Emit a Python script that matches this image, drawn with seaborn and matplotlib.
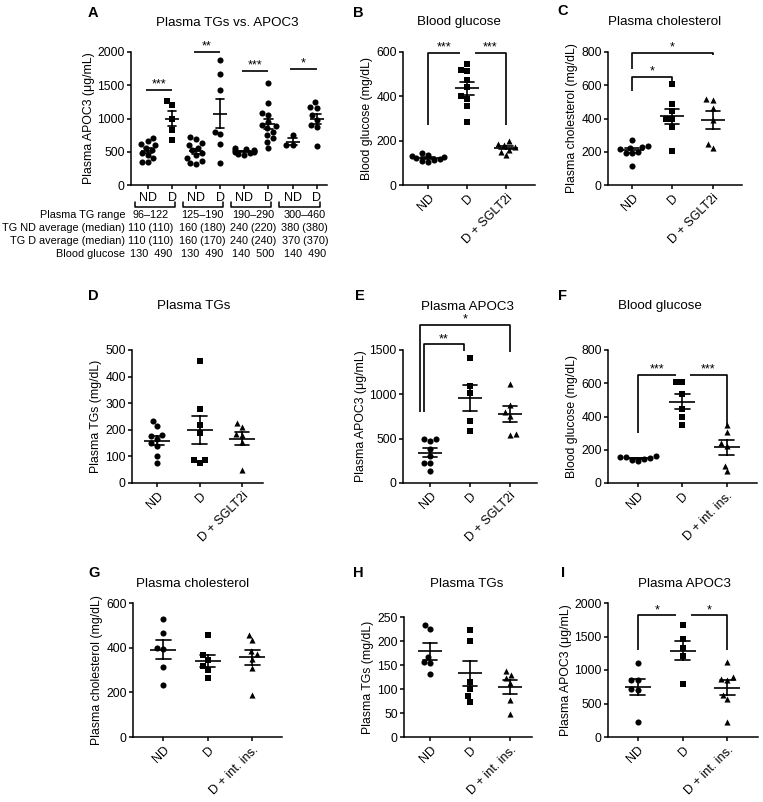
import numpy as np
import pandas as pd
import matplotlib
matplotlib.use("Agg")
import matplotlib.pyplot as plt
import seaborn as sns

# ---------------- values ----------------
# A: plasma APOC3 (ug/mL), ND vs D, split by plasma TG range
a_nd_1 = [710, 660, 620, 600, 560, 520, 480, 450, 400, 350, 340]
a_d_1 = [1270, 1210, 1000, 820, 670]
a_nd_2 = [720, 690, 630, 600, 560, 520, 480, 450, 400, 360, 330, 320]
a_d_2 = [1885, 1665, 1435, 800, 760, 620, 335]
a_nd_3 = [550, 540, 530, 520, 510, 500, 490, 480, 470, 450]
a_d_3 = [1530, 1230, 1080, 1050, 950, 900, 880, 850, 800, 750, 700, 650, 560]
a_nd_4 = [750, 600, 600]
a_d_4 = [1250, 1170, 1160, 1050, 980, 900, 870, 590]
a_tick_labels = ["ND", "D"] * 4
a_row_names = ["Plasma TG range", "TG ND average (median)",
               "TG D average (median)", "Blood glucose"]
tg_range = ["96–122", "125–190", "190–290", "300–460"]
tg_nd_avg = ["110 (110)", "160 (180)", "240 (220)", "380 (380)"]
tg_d_avg = ["110 (110)", "160 (170)", "240 (240)", "370 (370)"]
glucose_nd = [130, 130, 140, 140]
glucose_d = [490, 490, 500, 490]

sglt_groups = ["ND", "D", "D + SGLT2i"]
ins_groups = ["ND", "D", "D + int. ins."]

# B-E: SGLT2i cohort
b_nd = [145, 135, 130, 125, 120, 118, 115, 110, 105]
b_d = [545, 520, 515, 475, 440, 400, 390, 355, 285]
b_sglt = [200, 185, 180, 170, 160, 150, 135]
c_nd = [270, 235, 230, 225, 215, 200, 195, 190, 115]
c_d = [605, 485, 445, 400, 395, 350, 205]
c_sglt = [515, 510, 465, 390, 245, 220]
d_nd = [232, 214, 180, 175, 165, 150, 140, 102, 77]
d_d = [460, 280, 218, 188, 88, 75, 85]
d_sglt = [225, 210, 185, 180, 155, 48]
e_nd = [500, 500, 470, 380, 300, 230, 220, 130]
e_d = [1415, 1090, 1015, 695, 590]
e_sglt = [1120, 880, 800, 760, 550, 540]
# F-I: intensive insulin cohort
f_nd = [160, 155, 150, 140, 130, 145, 158]
f_d = [605, 605, 535, 445, 400, 350]
f_ins = [350, 305, 240, 220, 105, 70]
g_nd = [530, 465, 400, 395, 315, 235]
g_d = [458, 365, 345, 320, 300, 262]
g_ins = [458, 435, 385, 370, 350, 310, 187]
h_nd = [234, 225, 167, 157, 155, 132]
h_d = [222, 199, 115, 100, 85, 73]
h_ins = [138, 130, 122, 112, 78, 48]
i_nd = [1110, 850, 845, 720, 700, 225]
i_d = [1665, 1460, 1335, 1205, 785]
i_ins = [1120, 890, 870, 850, 620, 560, 225]

# significance marks: (x1, x2, height, left leg bottom, right leg bottom, label)
a_sig = [(-0.1, 1, 1430, None, None, "***"), (1.9, 3, 2000, None, None, "**"),
         (3.9, 5, 1715, None, None, "***"), (5.9, 7, 1740, None, None, "*")]
b_sig = [(0, 0.82, 597, 270, None, "***"), (1.2, 2, 597, None, 270, "***")]
c_sig = [(0, 1, 650, 566, 614, "*"), (0, 2, 796, 700, 780, "*")]
e_sig = [(-0.15, 0.85, 1567, 800, 1492, "**"), (-0.25, 2, 1783, 800, 1480, "*")]
f_sig = [(0, 0.85, 650, 300, None, "***"), (1.18, 2, 650, None, 340, "***")]
i_sig = [(0, 0.85, 1816, 1294, None, "*"), (1.18, 2, 1816, None, 1294, "*")]

# ---------------- style ----------------
sns.set_style("ticks")
plt.rcParams["font.family"] = ["Liberation Sans", "DejaVu Sans"]
plt.rcParams.update({
    "axes.linewidth": 1.1, "axes.edgecolor": "black", "axes.labelcolor": "black",
    "xtick.color": "black", "ytick.color": "black", "text.color": "black",
    "xtick.major.width": 1.1, "ytick.major.width": 1.1,
    "xtick.major.size": 3, "ytick.major.size": 3,
    "xtick.major.pad": 2, "ytick.major.pad": 1.5,
    "xtick.labelsize": 9, "ytick.labelsize": 8.7, "axes.labelsize": 8.8,
    "axes.labelpad": 2,
})

W, H = 763, 802
fig = plt.figure(figsize=(W / 100, H / 100), dpi=100)


def add_axes(l, r, t, b):
    return fig.add_axes([l / W, 1 - b / H, (r - l) / W, (b - t) / H])


def dot_panel(ax, groups, values, markers, xlim, ylim, yticks, ylabel, title, title_x, title_pad):
    df = pd.DataFrame({"group": np.repeat(groups, [len(v) for v in values]),
                       "value": np.concatenate(values).astype(float)})
    for g, m in zip(groups, markers):
        sns.swarmplot(data=df[df["group"] == g], x="group", y="value", order=groups,
                      marker=m, color="black", size=4.4, linewidth=0,
                      warn_thresh=1, ax=ax)
    slot = ax.get_position().width * W / (xlim[1] - xlim[0]) * 0.72
    sns.pointplot(data=df, x="group", y="value", order=groups, errorbar="se",
                  capsize=0.34, color="black", marker="_", markersize=0.6 * slot,
                  markeredgewidth=1.2, linestyle="none",
                  err_kws={"linewidth": 1.2}, ax=ax)
    ax.set_xlim(*xlim)
    ax.set_ylim(*ylim)
    ax.set_yticks(yticks)
    ax.set_xlabel("")
    ax.set_ylabel(ylabel)
    ax.set_title(title, x=title_x, y=1.0, pad=title_pad / 1.389, fontsize=9.6)
    sns.despine(ax=ax)


def rotate_labels(ax):
    for lab in ax.get_xticklabels():
        lab.set_rotation(45)
        lab.set_ha("right")
        lab.set_rotation_mode("anchor")


def add_sig(ax, specs, offset=1.5):
    for x1, x2, y, b1, b2, lab in specs:
        xs, ys = [x1, x2], [y, y]
        if b1 is not None:
            xs, ys = [x1] + xs, [b1] + ys
        if b2 is not None:
            xs, ys = xs + [x2], ys + [b2]
        ax.plot(xs, ys, color="black", lw=1.2, clip_on=False, solid_capstyle="butt")
        ax.annotate(lab, ((x1 + x2) / 2, y), xytext=(0, offset), textcoords="offset points",
                    ha="center", va="baseline", fontsize=9, annotation_clip=False)


# ---------------- panel A ----------------
ax_a = add_axes(131, 327, 52, 185)
a_keys = [f"{s} {r}" for r in tg_range for s in ("ND", "D")]
a_values = [a_nd_1, a_d_1, a_nd_2, a_d_2, a_nd_3, a_d_3, a_nd_4, a_d_4]
a_markers = ["o", "s", "o", "o", "o", "o", "o", "o"]
dot_panel(ax_a, a_keys, a_values, a_markers, (-0.71, 7.43), (0, 2000),
          [0, 500, 1000, 1500, 2000], "Plasma APOC3 (μg/mL)",
          "Plasma TGs vs. APOC3", 0.49, 26)
ax_a.set_xticks(range(len(a_keys)))
ax_a.set_xticklabels(a_tick_labels)
add_sig(ax_a, a_sig, offset=2)

xt = ax_a.get_xaxis_transform()
rows = [tg_range, tg_nd_avg, tg_d_avg,
        [f"{n}  {d}" for n, d in zip(glucose_nd, glucose_d)]]
row_y = [-0.222, -0.32, -0.42, -0.52]
for i in range(4):
    ax_a.plot([2 * i - 0.55, 2 * i - 0.55, 2 * i + 1.12, 2 * i + 1.12],
              [-0.125, -0.163, -0.163, -0.125], transform=xt, color="black",
              lw=1.1, clip_on=False)
for name, vals, y in zip(a_row_names, rows, row_y):
    ax_a.text(-0.03, y, name, transform=ax_a.transAxes, ha="right", va="center", fontsize=7.8)
    for i, v in enumerate(vals):
        ax_a.text(2.13 * i + 0.12, y, v, transform=xt, ha="center", va="center", fontsize=7.8)

# ---------------- panels B-I ----------------
tri = ["o", "s", "^"]
panels = [
    ("B", (403, 535, 52, 185), sglt_groups, [b_nd, b_d, b_sglt], (-0.64, 2.74), (0, 600),
     [0, 200, 400, 600], "Blood glucose (mg/dL)", "Blood glucose", 0.42, 27, b_sig),
    ("C", (608, 742, 52, 185), sglt_groups, [c_nd, c_d, c_sglt], (-0.59, 2.72), (0, 800),
     [0, 200, 400, 600, 800], "Plasma cholesterol (mg/dL)", "Plasma cholesterol", 0.425, 27, c_sig),
    ("D", (132, 263, 350, 483), sglt_groups, [d_nd, d_d, d_sglt], (-0.59, 2.49), (0, 500),
     [0, 100, 200, 300, 400, 500], "Plasma TGs (mg/dL)", "Plasma TGs", 0.47, 41, None),
    ("E", (403, 537, 350, 483), sglt_groups, [e_nd, e_d, e_sglt], (-0.68, 2.68), (0, 1500),
     [0, 500, 1000, 1500], "Plasma APOC3 (μg/mL)", "Plasma APOC3", 0.48, 40, e_sig),
    ("F", (608, 757, 350, 483), ins_groups, [f_nd, f_d, f_ins], (-0.67, 2.68), (0, 800),
     [0, 200, 400, 600, 800], "Blood glucose (mg/dL)", "Blood glucose", 0.35, 41, f_sig),
    ("G", (133, 282, 603, 737), ins_groups, [g_nd, g_d, g_ins], (-0.68, 2.67), (0, 600),
     [0, 200, 400, 600], "Plasma cholesterol (mg/dL)", "Plasma cholesterol", 0.40, 16, None),
    ("H", (404, 532, 617, 737), ins_groups, [h_nd, h_d, h_ins], (-0.65, 2.55), (0, 250),
     [0, 50, 100, 150, 200, 250], "Plasma TGs (mg/dL)", "Plasma TGs", 0.49, 30, None),
    ("I", (608, 758, 603, 737), ins_groups, [i_nd, i_d, i_ins], (-0.66, 2.68), (0, 2000),
     [0, 500, 1000, 1500, 2000], "Plasma APOC3 (μg/mL)", "Plasma APOC3", 0.51, 16, i_sig),
]
for letter, box, groups, vals, xlim, ylim, yticks, ylabel, title, tx, pad, sig in panels:
    ax = add_axes(*box)
    dot_panel(ax, groups, vals, tri, xlim, ylim, yticks, ylabel, title, tx, pad)
    rotate_labels(ax)
    if sig is not None:
        add_sig(ax, sig)

# panel letters
letters = [("A", 88, 17), ("B", 353, 17), ("C", 557, 15), ("D", 88, 300), ("E", 355, 300),
           ("F", 558, 300), ("G", 88, 577), ("H", 353, 577), ("I", 561, 577)]
for s, x, y in letters:
    fig.text(x / W, 1 - y / H, s, fontsize=10.5, fontweight="bold", va="baseline", ha="left")

fig.savefig("out.png", dpi=100)
